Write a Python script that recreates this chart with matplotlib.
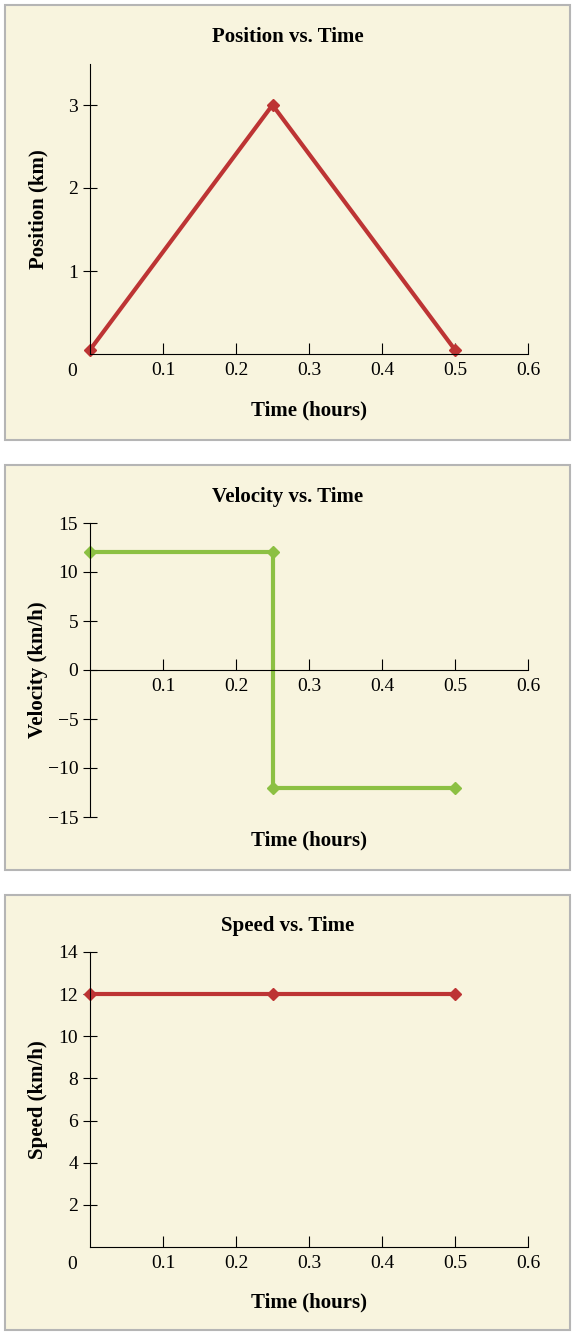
import matplotlib.pyplot as plt
from matplotlib.patches import Rectangle

plt.rcParams['font.family'] = ['Liberation Serif', 'DejaVu Serif']

t = [0, 0.25, 0.5]
position = [0.05, 3.0, 0.05]
vel_t = [0, 0.25, 0.25, 0.5]
velocity = [12, 12, -12, -12]
speed = [12, 12, 12]

W, H = 575, 1335
fig = plt.figure(figsize=(W / 100, H / 100), dpi=100)
bg = '#f8f4de'
red = '#bd3434'
green = '#8cc043'

# panel boxes (pixel top, bottom)
for top, bot in [(5, 440), (465, 870), (895, 1330)]:
    fig.patches.append(Rectangle((5 / W, 1 - bot / H), 565 / W, (bot - top) / H,
                                 transform=fig.transFigure, facecolor=bg,
                                 edgecolor='#b5b5b5', linewidth=1.5, zorder=-10))


def make_axes(top, bot):
    ax = fig.add_axes([90 / W, 1 - bot / H, 438 / W, (bot - top) / H])
    ax.set_facecolor('none')
    for s in ['top', 'right']:
        ax.spines[s].set_visible(False)
    ax.set_xlim(0, 0.6)
    ax.set_xticks([0.1, 0.2, 0.3, 0.4, 0.5, 0.6])
    ax.set_xticklabels(['0.1', '0.2', '0.3', '0.4', '0.5', '0.6'])
    ax.tick_params(axis='x', direction='in', length=8, labelsize=14, pad=6)
    ax.tick_params(axis='y', direction='inout', length=10, labelsize=14)
    return ax


def labels(ax, title, ylabel, ty, xy):
    fig.text(288 / W, 1 - ty / H, title, ha='center', va='center',
             fontsize=15, fontweight='bold')
    fig.text(309 / W, 1 - xy / H, 'Time (hours)', ha='center', va='center',
             fontsize=15, fontweight='bold')
    fig.text(38 / W, ax.get_position().y0 + ax.get_position().height / 2, ylabel,
             ha='center', va='center', rotation=90, fontsize=15, fontweight='bold')


# Position
ax1 = make_axes(63.5, 354)
ax1.set_ylim(0, 3.5)
ax1.set_yticks([1, 2, 3])
ax1.plot(t, position, color=red, lw=3, marker='D', ms=6, clip_on=False)
ax1.text(-0.04, -0.06, '0', transform=ax1.transAxes, fontsize=14, ha='center', va='center')
labels(ax1, 'Position vs. Time', 'Position (km)', 37, 410)

# Velocity
ax2 = make_axes(523, 817)
ax2.set_ylim(-15, 15)
ax2.set_yticks([-15, -10, -5, 0, 5, 10, 15])
ax2.spines['bottom'].set_position(('data', 0))
ax2.plot(vel_t, velocity, color=green, lw=3, clip_on=False)
ax2.plot(t[:2] + t[1:], [12, 12, -12, -12], ls='none', marker='D', ms=6,
         color=green, clip_on=False)
labels(ax2, 'Velocity vs. Time', 'Velocity (km/h)', 497, 840)

# Speed
ax3 = make_axes(952, 1247)
ax3.set_ylim(0, 14)
ax3.set_yticks([2, 4, 6, 8, 10, 12, 14])
ax3.plot(t, speed, color=red, lw=3, marker='D', ms=6, clip_on=False)
ax3.text(-0.04, -0.06, '0', transform=ax3.transAxes, fontsize=14, ha='center', va='center')
labels(ax3, 'Speed vs. Time', 'Speed (km/h)', 926, 1302)

fig.savefig('out.png', dpi=100, facecolor='white')
